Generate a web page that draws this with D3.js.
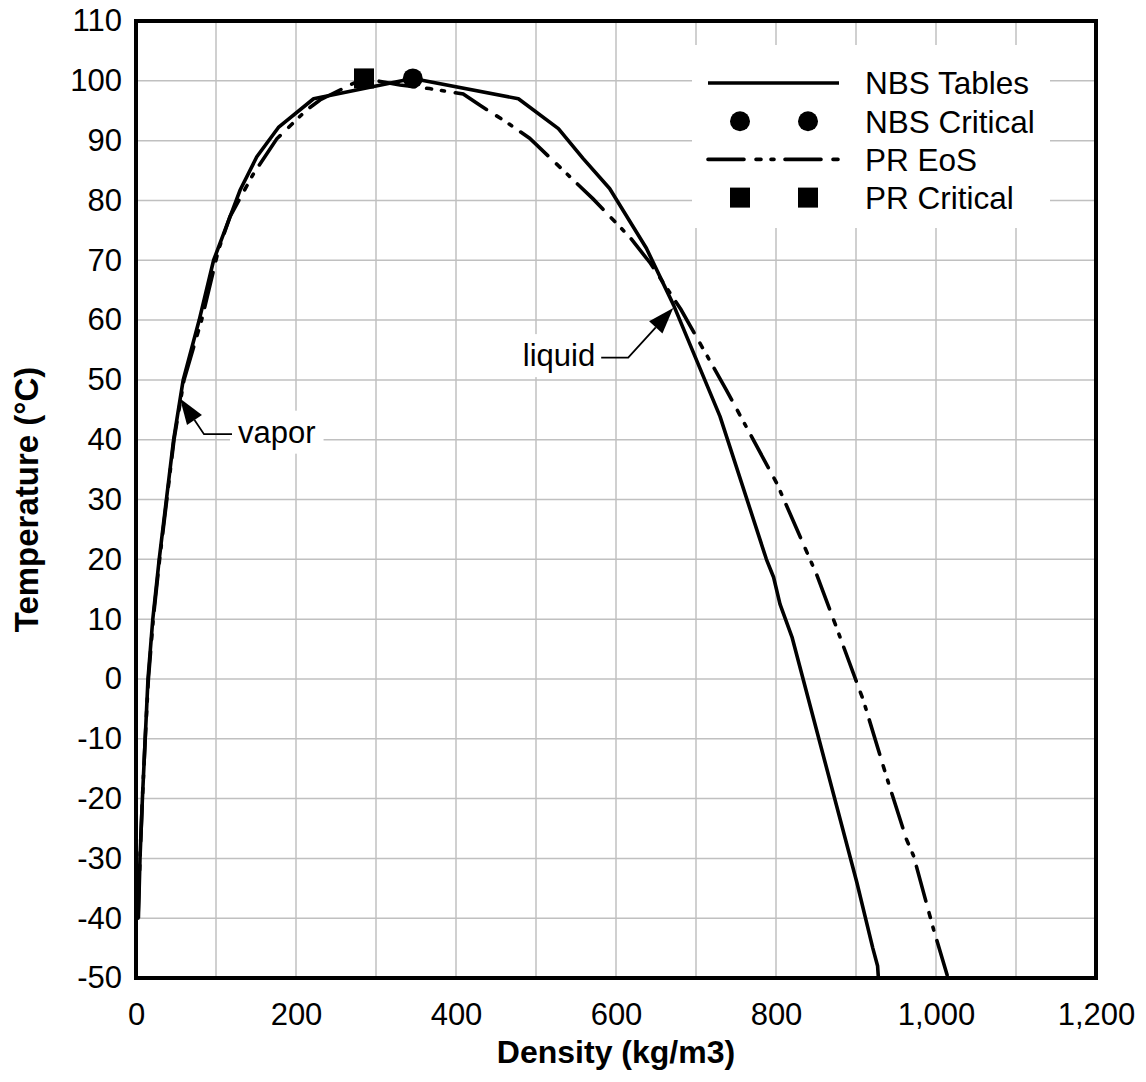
<!DOCTYPE html>
<html>
<head>
<meta charset="utf-8">
<script src="https://cdn.jsdelivr.net/npm/d3@7"></script>
<style>
  body { margin: 0; background: #fff; }
  text { font-family: "Liberation Sans", Arial, sans-serif; }
</style>
</head>
<body>
<div id="chart"></div>
<script>
// NBS tables: vapor branch from -40 up to the critical point, then liquid branch down
const nbsDensity = [3, 5, 8, 11.5, 15, 21, 29, 38, 47, 59, 79, 97, 130, 151, 178, 222, 346,
    478, 528, 559, 592, 638, 672, 730, 788, 797, 805, 820, 901, 921, 927, 928];
const nbsTemp = [-40, -30, -20, -10, 0, 10, 20, 30, 40, 50, 60, 70, 81.7, 87.3, 92.2, 97, 100.4,
    97, 92, 87, 82, 72, 62.5, 43.9, 20, 17, 12.5, 7, -34, -45, -48, -50];

// Peng-Robinson EoS
const prDensity = [2.5, 5, 8, 11.5, 15.5, 21.5, 29.5, 38.5, 47.5, 60, 82, 103, 117.5, 138, 147, 176, 213, 230, 267.5, 285,
    330, 367, 409, 430, 463, 492, 521, 571, 617, 643, 681, 738, 801, 851, 872, 909, 938, 963, 972, 997, 1015];
const prTemp = [-40, -30, -20, -10, 0, 10, 20, 30, 40, 50, 60, 71.7, 77.3, 82.3, 84.5, 90.3, 95.1, 96.8, 99.3, 100.4,
    99.3, 98.7, 97.8, 95.9, 93.1, 90.4, 86.7, 80.3, 73.9, 69.5, 61.8, 48.3, 32.7, 17.4, 9.9, -3.5, -16.3, -26.8, -29.6, -41.9, -50];

const nbsCritical = [346, 100.4];
const prCritical = [285, 100.4];

const xTicks = [0, 200, 400, 600, 800, 1000, 1200];
const xGrid = d3.range(0, 1201, 100);
const yTicks = d3.range(-50, 111, 10);

const legendLabels = ['NBS Tables', 'NBS Critical', 'PR EoS', 'PR Critical'];

const W = 1146, H = 1082;
const margin = { top: 21, right: 50, bottom: 104, left: 136 };
const width = W - margin.left - margin.right;
const height = H - margin.top - margin.bottom;
const prDash = '36,12,5,10,3,11';
const fontSize = 31;

const svg = d3.select('#chart').append('svg')
    .attr('width', W).attr('height', H)
    .append('g')
    .attr('transform', 'translate(' + margin.left + ',' + margin.top + ')');

const x = d3.scaleLinear().domain([0, 1200]).range([0, width]);
const y = d3.scaleLinear().domain([-50, 110]).range([height, 0]);

// grid
svg.append('g').selectAll('line').data(xGrid).join('line')
    .attr('x1', d => x(d)).attr('x2', d => x(d))
    .attr('y1', 0).attr('y2', height)
    .attr('stroke', '#c0c0c0').attr('stroke-width', 1.5);
svg.append('g').selectAll('line').data(yTicks).join('line')
    .attr('y1', d => y(d)).attr('y2', d => y(d))
    .attr('x1', 0).attr('x2', width)
    .attr('stroke', '#c0c0c0').attr('stroke-width', 1.5);

// axes labels
const xAxis = svg.append('g')
    .attr('transform', `translate(0,${height})`)
    .call(d3.axisBottom(x).tickValues(xTicks).tickSize(0).tickPadding(25).tickFormat(d3.format(',')));
const yAxis = svg.append('g')
    .call(d3.axisLeft(y).tickValues(yTicks).tickSize(0).tickPadding(14).tickFormat(d => '' + d));
[xAxis, yAxis].forEach(a => {
    a.select('.domain').remove();
    a.selectAll('text').attr('font-size', fontSize).attr('fill', '#000')
        .style('font-family', '"Liberation Sans", Arial, sans-serif');
});

svg.append('text')
    .attr('x', width / 2).attr('y', height + 85)
    .attr('text-anchor', 'middle')
    .attr('font-size', 32).attr('font-weight', 'bold')
    .text('Density (kg/m3)');
svg.append('text')
    .attr('transform', `translate(${38 - margin.left},${height / 2}) rotate(-90)`)
    .attr('text-anchor', 'middle')
    .attr('font-size', 33).attr('font-weight', 'bold')
    .text('Temperature (°C)');

// annotations: label boxes hide the grid, arrows point to the curves
function annotate(label, tip, textPos, anchor, elbow) {
    const g = svg.append('g');
    const t = g.append('text')
        .attr('x', x(textPos[0])).attr('y', y(textPos[1]))
        .attr('text-anchor', anchor)
        .attr('font-size', fontSize)
        .text(label);
    const bb = t.node().getBBox();
    g.insert('rect', 'text')
        .attr('x', bb.x - 8).attr('y', bb.y - 4)
        .attr('width', bb.width + 16).attr('height', bb.height + 8)
        .attr('fill', '#fff');
    const tx = x(tip[0]), ty = y(tip[1]);
    const lineY = bb.y + bb.height / 2 + 2;
    const startX = anchor === 'end' ? bb.x + bb.width + 6 : bb.x - 6;
    const ex = startX + elbow[0];
    const ang = Math.atan2(ty - lineY, tx - ex);
    const headLen = 26, headW = 9;
    const bx = tx - headLen * Math.cos(ang), by = ty - headLen * Math.sin(ang);
    g.append('path')
        .attr('d', `M${startX},${lineY}H${ex}L${bx},${by}`)
        .attr('fill', 'none').attr('stroke', '#000').attr('stroke-width', 1.8);
    const px = -Math.sin(ang) * headW, py = Math.cos(ang) * headW;
    g.append('path')
        .attr('d', `M${tx},${ty}L${bx + px},${by + py}L${bx - px},${by - py}Z`)
        .attr('fill', '#000');
}
annotate('vapor', [55, 46.9], [127.5, 39.5], 'start', [-28]);
annotate('liquid', [671.6, 62.0], [574, 52.3], 'end', [27]);

// curves
const line = d3.line().x(d => x(d[0])).y(d => y(d[1]));
svg.append('path')
    .datum(nbsDensity.map((d, i) => [d, nbsTemp[i]]))
    .attr('d', line)
    .attr('fill', 'none').attr('stroke', '#000').attr('stroke-width', 3.6)
    .attr('stroke-linejoin', 'round');
svg.append('path')
    .datum(prDensity.map((d, i) => [d, prTemp[i]]))
    .attr('d', line)
    .attr('fill', 'none').attr('stroke', '#000').attr('stroke-width', 3.6)
    .attr('stroke-linecap', 'round').attr('stroke-dasharray', prDash);

// critical points
svg.append('circle')
    .attr('cx', x(nbsCritical[0])).attr('cy', y(nbsCritical[1])).attr('r', 10)
    .attr('fill', '#000');
svg.append('rect')
    .attr('x', x(prCritical[0]) - 10).attr('y', y(prCritical[1]) - 10)
    .attr('width', 20).attr('height', 20)
    .attr('fill', '#000');

// frame
svg.append('rect')
    .attr('width', width).attr('height', height)
    .attr('fill', 'none').attr('stroke', '#000').attr('stroke-width', 4);

// legend
const legend = svg.append('g').attr('transform', `translate(${692 - margin.left},${45 - margin.top})`);
legend.append('rect').attr('width', 358).attr('height', 183).attr('fill', '#fff');
const rowY = i => 38 + i * 38.2;
legendLabels.forEach((lab, i) => {
    const ry = rowY(i);
    if (i === 0 || i === 2) {
        legend.append('line')
            .attr('x1', 16).attr('x2', 147).attr('y1', ry).attr('y2', ry)
            .attr('stroke', '#000').attr('stroke-width', 3.6)
            .attr('stroke-linecap', i === 2 ? 'round' : 'butt')
            .attr('stroke-dasharray', i === 2 ? prDash : null);
    } else {
        [48, 116].forEach(cx => {
            if (i === 1) {
                legend.append('circle').attr('cx', cx).attr('cy', ry).attr('r', 10).attr('fill', '#000');
            } else {
                legend.append('rect').attr('x', cx - 10).attr('y', ry - 10)
                    .attr('width', 20).attr('height', 20).attr('fill', '#000');
            }
        });
    }
    legend.append('text')
        .attr('x', 173).attr('y', ry).attr('dy', '0.36em')
        .attr('font-size', 31.5)
        .text(lab);
});
</script>
</body>
</html>
